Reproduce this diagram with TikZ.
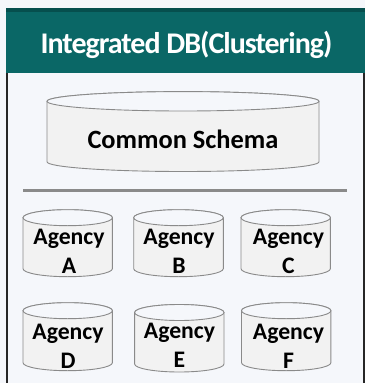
\documentclass[tikz,border=0pt]{standalone}
\usepackage{fontspec}
\setmainfont{Carlito}
\definecolor{pagebg}{HTML}{F5F7FB}
\definecolor{headbg}{HTML}{0A6766}
\definecolor{headtop}{HTML}{064F4E}
\definecolor{dbfill}{HTML}{F2F2F2}
\definecolor{dbline}{HTML}{8A8A8A}
\tikzset{
  dbbody/.style={draw=dbline, line width=0.9pt, fill=dbfill},
  dbtop/.style={draw=dbline, line width=0.9pt, fill=pagebg},
  agencytext/.style={inner sep=0pt, align=center, font=\fontsize{23.7}{29}\selectfont\bfseries},
  schematext/.style={inner sep=0pt, font=\fontsize{26.4}{29}\selectfont\bfseries}
}
% center x, y of top ellipse, x radius, y radius, body height
\newcommand{\dbdrum}[5]{
  \draw[dbbody] (#1-#3,#2) arc[start angle=180,end angle=0,x radius=#3pt,y radius=#4pt]
    -- ++(0,#5) arc[start angle=0,end angle=-180,x radius=#3pt,y radius=#4pt] -- cycle;
  \draw[dbtop] (#1,#2) ellipse[x radius=#3pt,y radius=#4pt];
}
\begin{document}
\begin{tikzpicture}[x=1pt,y=-1pt]
  \useasboundingbox[fill=pagebg] (0,0) rectangle (365,383);
  \draw[line width=2pt, black!85] (6.5,72) -- (6.5,383);
  \draw[line width=2pt, black!85] (363.5,72) -- (363.5,383);
  \fill[headbg] (6,8) rectangle (365,73);
  \fill[headtop] (6,8) rectangle (365,12);
  \node[text=white, font=\fontsize{30}{31}\selectfont\bfseries\addfontfeature{LetterSpace=-3.3}] (title) at (186.5,44.5) {Integrated DB(Clustering)};
  \dbdrum{183}{101.3}{136}{9.7}{60.5}
  \node[schematext] (common) at (183,139) {Common Schema};
  \draw[line width=2.4pt, dbline] (23,190.5) -- (347,190.5);
  \dbdrum{67.7}{217.7}{44.7}{8}{51}
  \dbdrum{178.5}{217.7}{44.8}{8}{51}
  \dbdrum{285.7}{217.7}{44.7}{8}{51}
  \dbdrum{67.7}{310.7}{44.7}{8}{52}
  \dbdrum{179.3}{312.5}{44.7}{8}{51.5}
  \dbdrum{286.2}{310.7}{44.7}{8}{52}
  \node[agencytext] (a) at (69,251.5) {Agency\\A};
  \node[agencytext] (b) at (179,251.5) {Agency\\B};
  \node[agencytext] (c) at (288.5,251.5) {Agency\\C};
  \node[agencytext] (d) at (68,346.5) {Agency\\D};
  \node[agencytext] (e) at (179.5,345.5) {Agency\\E};
  \node[agencytext] (f) at (288.5,346.5) {Agency\\F};
\end{tikzpicture}
\end{document}
